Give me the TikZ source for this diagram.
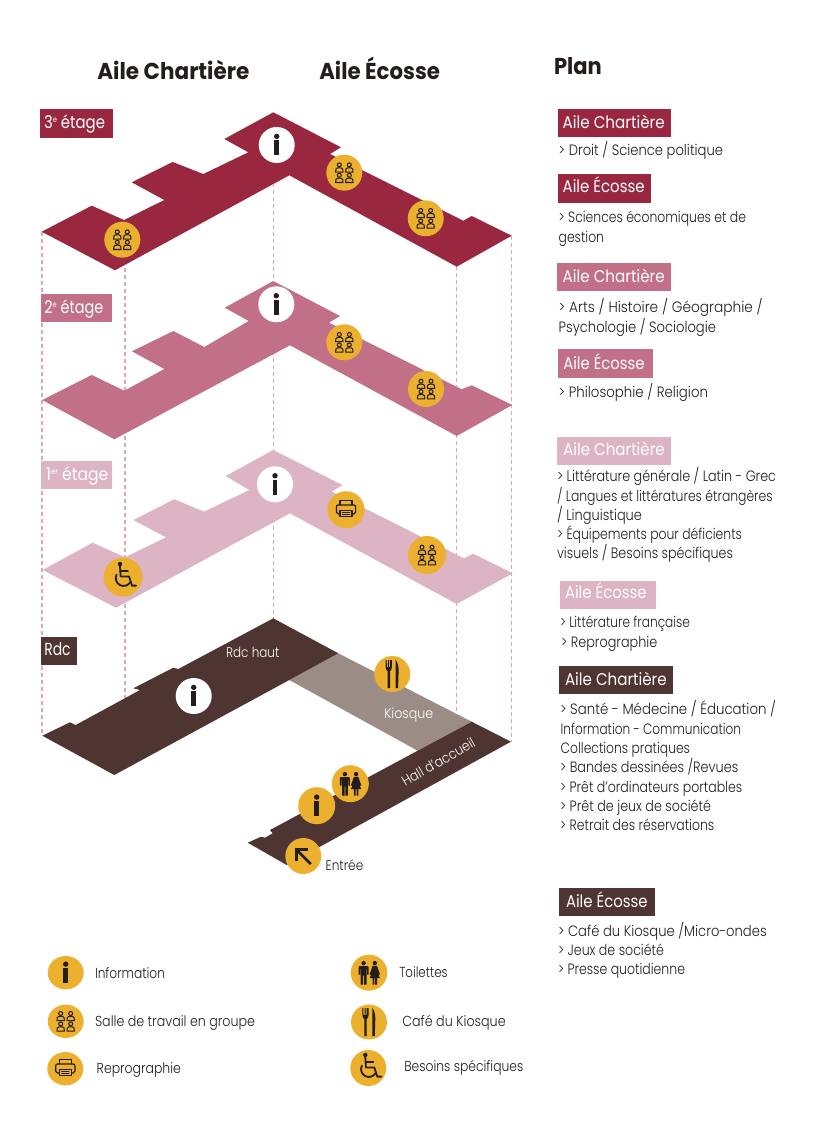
\documentclass[tikz,border=0pt]{standalone}
\usepackage{fontspec}
\usepackage{graphicx}
\setmainfont{Poppins Light}[BoldFont=Poppins Bold]
\newfontfamily\medfont{Poppins}
\definecolor{fl3}{HTML}{98273F}
\definecolor{fl2}{HTML}{C27087}
\definecolor{fl1}{HTML}{DCB4C3}
\definecolor{fl0}{HTML}{4F3531}
\definecolor{kio}{HTML}{9B8C85}
\definecolor{yel}{HTML}{ECB02F}
\definecolor{dsh}{HTML}{DBA8BA}
\definecolor{ink}{HTML}{241D1B}
\newcounter{tc}
\tikzset{
  txt/.style={anchor=base west,inner sep=0pt,outer sep=0pt,text=#1},
  tag/.style={fill=#1,draw=none,inner sep=0pt,outer sep=0pt,anchor=north west},
  guide/.style={draw=dsh,line width=1.3pt,dash pattern=on 4pt off 3pt},
  disc/.style={circle,inner sep=0pt,outer sep=0pt,draw=none,fill=#1},
  iconline/.style={draw=ink,line width=#1,line cap=round,line join=round,fill=none},
}
\newcommand\tl[6]{\stepcounter{tc}\pgfmathsetlengthmacro\txtw{#3-#1}%
  \node[txt=#4,font=\fontsize{#5}{#5}\selectfont] (t\thetc) at (#1,#2) {\resizebox{\txtw}{\height}{#6}};}
\newcommand\tagbox[6]{%
  \pgfmathsetlengthmacro\tagw{#4-#2}\pgfmathsetlengthmacro\tagh{#5-#3}%
  \node[tag=#6,minimum width=\tagw,minimum height=\tagh] (#1) at (#2,#3) {};}
\newcommand\sups[1]{\raisebox{6pt}{\fontsize{8}{8}\selectfont #1}}
\newcommand\icinfo{\fill[ink] (0,-8.6) circle (2.7);\fill[ink] (-2.3,-4.6) rectangle (2.3,10.4);}
\newcommand\person[2]{\begin{scope}[shift={(#1,#2)}]
  \draw[iconline=1.05pt] (0,-2.8) circle (2);
  \draw[iconline=1.05pt] (-3.7,4.4) -- (-3.4,1.3) .. controls (-2.8,-0.4) and (2.8,-0.4) .. (3.4,1.3) -- (3.7,4.4) -- cycle;
  \end{scope}}
\newcommand\icgroup{\person{-5}{-5}\person{5}{-5}\person{-5}{5.4}\person{5}{5.4}}
\newcommand\icprinter{%
  \draw[iconline=1.2pt] (-6,-4.8) -- (-6,-9) -- (6,-9) -- (6,-4.8);
  \draw[iconline=1.2pt] (-6,4.2) -- (-8,4.2) .. controls (-9.2,4.2) and (-9.6,3.4) .. (-9.6,2.4) -- (-9.6,-2.6) .. controls (-9.6,-4) and (-9,-4.8) .. (-7.6,-4.8) -- (7.6,-4.8) .. controls (9,-4.8) and (9.6,-4) .. (9.6,-2.6) -- (9.6,2.4) .. controls (9.6,3.4) and (9.2,4.2) .. (8,4.2) -- (6,4.2);
  \draw[iconline=1.2pt] (-6,1) rectangle (6,7);
  \draw[iconline=0.9pt] (-3.6,3.2) -- (3.6,3.2);\draw[iconline=0.9pt] (-3.6,5) -- (3.6,5);}
\newcommand\icwheel{%
  \fill[ink] (-3,-13) circle (2.2);
  \draw[iconline=1.8pt] (-3,-11) -- (-2.4,-0.6) -- (6,-0.6) -- (9,8.6) -- (13,8.6);
  \draw[iconline=1.8pt] (-2.8,-6) -- (5,-6);
  \draw[iconline=1.8pt] (-6.4,-2.4) arc[start angle=-153,end angle=-325,radius=7.8];}
\newcommand\icfork{%
  \fill[ink] (-6.6,-14) -- (-5.6,-14) -- (-5.5,-7) -- (-4.5,-7) -- (-4.4,-14) -- (-3.5,-14) -- (-3.4,-7) -- (-2.5,-7) -- (-2.4,-14) -- (-1.4,-14) -- (-1.2,-14) -- (-0.4,-14) -- (-0.4,-7) .. controls (-0.4,-4) and (-1.8,-3.6) .. (-2.3,-3) -- (-2.3,14) -- (-4.7,14) -- (-4.7,-3) .. controls (-5.4,-3.6) and (-6.6,-4) .. (-6.6,-7) -- cycle;
  \fill[ink] (3.4,-14.5) .. controls (6.6,-9) and (6.6,-4) .. (6.2,0) -- (5.8,14) -- (3.4,14) -- cycle;}
\newcommand\toiletman{%
  \fill[ink] (0,-9.6) circle (2.2);
  \fill[ink] (-4.2,-6.6) -- (4.2,-6.6) -- (5,-5.8) -- (5,2) -- (3.4,2) -- (3.4,-3.6) -- (2.9,-3.6) -- (2.9,12) -- (0.4,12) -- (0.4,3) -- (-0.4,3) -- (-0.4,12) -- (-2.9,12) -- (-2.9,-3.6) -- (-3.4,-3.6) -- (-3.4,2) -- (-5,2) -- (-5,-5.8) -- cycle;}
\newcommand\toiletwoman{%
  \fill[ink] (0,-9.6) circle (2.2);
  \fill[ink] (-2.2,-6.8) -- (2.2,-6.8) -- (5.2,1.6) -- (4,2) -- (2.6,-1.4) -- (5,5.4) -- (2.3,5.4) -- (2.3,12) -- (0.4,12) -- (0.4,5.4) -- (-0.4,5.4) -- (-0.4,12) -- (-2.3,12) -- (-2.3,5.4) -- (-5,5.4) -- (-2.6,-1.4) -- (-4,2) -- (-5.2,1.6) -- cycle;}
\newcommand\ictoilet{\begin{scope}[shift={(-5.4,0)}]\toiletman\end{scope}\begin{scope}[shift={(5.8,0)}]\toiletwoman\end{scope}}
\newcommand\icarrow{\draw[iconline=2.6pt,line cap=butt] (7.5,8) -- (-6.5,-6);\draw[iconline=2.6pt,line cap=butt,line join=miter] (-6.8,5) -- (-6.8,-6.5) -- (4.6,-6.5);}
\newcommand\badge[7]{\pgfmathsetlengthmacro\bd{2*#4}%
  \node[disc=#6,minimum size=\bd,yscale=#5/#4] (#1) at (#2,#3) {};
  \begin{scope}[shift={(#2,#3)}]#7\end{scope}}
\begin{document}
\begin{tikzpicture}[x=1pt,y=-1pt]
\useasboundingbox (0,0) rectangle (821,1126);
\fill[white] (0,0) rectangle (821,1126);
\coordinate (a0) at (42,232); \coordinate (a1) at (42,736);
\coordinate (b0) at (125,268); \coordinate (b1) at (125,698);
\coordinate (c0) at (273.5,176); \coordinate (c1) at (273.5,620);
\coordinate (d0) at (456.5,266); \coordinate (d1) at (456.5,712);
\coordinate (e0) at (511.5,236); \coordinate (e1) at (511.5,742);
\draw[guide] (a0) -- (a1);
\draw[guide] (b0) -- (b1);
\draw[guide] (c0) -- (c1);
\draw[guide] (d0) -- (d1);
\draw[guide] (e0) -- (e1);
\fill[fl3] (41.7,231.7) -- (91.7,205.7) -- (124,220) -- (164.3,200) -- (131.7,182.3) -- (172.7,162) -- (203.3,174) -- (248.3,152.3) -- (224.3,139) -- (273.3,112.3) -- (341,147.3) -- (330,154) -- (463.3,220.7) -- (471.7,216) -- (511.7,235.7) -- (456.7,266.7) -- (289.3,175.3) -- (115,270.3) -- cycle;
\fill[fl2] (42.3,400) -- (91.7,375) -- (124.3,390.7) -- (164.3,369) -- (132,351.3) -- (173.3,331) -- (204.3,347) -- (248.7,321) -- (224.7,307.7) -- (273.3,281) -- (340,316) -- (329,322.7) -- (461.7,389.3) -- (471.7,385.3) -- (512.3,405) -- (456.7,436) -- (290,345.3) -- (114.3,439.3) -- cycle;
\fill[fl1] (42.7,570) -- (92.7,542.7) -- (125,557.3) -- (166,537.3) -- (133.3,520) -- (174.3,499.3) -- (204,511.7) -- (249.3,490) -- (225.7,476) -- (273.3,450) -- (342.3,485) -- (331.7,491.7) -- (464,558.3) -- (473.3,553.7) -- (512.7,573.3) -- (456.7,604) -- (290,513.3) -- (116,607.7) -- cycle;
\fill[kio] (338.3,653.3) -- (471.7,721.7) -- (417.7,750.7) -- (289.3,680) -- cycle;
\fill[fl0] (42.3,735.7) -- (70,722.3) -- (75.7,725) -- (140,690) -- (133.3,688.3) -- (173.3,667.7) -- (178.3,669) -- (273.3,618.3) -- (338.3,653.3) -- (289.3,680) -- (114.3,775) -- cycle;
\fill[fl0] (471.7,721.7) -- (511,741.7) -- (286.7,865) -- (247.7,842.7) -- (261,836.7) -- (265,837.7) -- (272.7,833.3) -- (270,830) -- (417.7,750.7) -- cycle;
\tagbox{l3}{40}{108.7}{112.7}{138.3}{fl3}
\tagbox{l2}{41}{294}{112.3}{322.3}{fl2}
\tagbox{l1}{41}{461}{112.3}{489}{fl1}
\tagbox{l0}{41}{636.7}{76.7}{664.7}{fl0}
\tl{44}{128.3}{105}{white}{17.5}{\medfont 3\sups{e} étage}
\tl{44.3}{313.3}{103.3}{white}{17.5}{\medfont 2\sups{e} étage}
\tl{46}{480}{108.3}{white}{17.5}{\medfont 1\sups{er} étage}
\tl{44.3}{655.7}{70.7}{white}{17.5}{\medfont Rdc}
\tl{97.3}{79.3}{249.3}{ink}{23}{\bfseries Aile Chartière}
\tl{319.3}{79.3}{440}{ink}{23}{\bfseries Aile Écosse}
\tl{554}{75}{601.7}{ink}{23}{\bfseries Plan}
\tagbox{p1}{557.7}{109.3}{671.3}{137.3}{fl3}
\tagbox{p2}{557.7}{174.3}{650.7}{202.7}{fl3}
\tagbox{p3}{557.3}{263}{670.7}{290.7}{fl2}
\tagbox{p4}{558.3}{349.3}{652.7}{377.7}{fl2}
\tagbox{p5}{557.3}{437}{670.7}{464.7}{fl1}
\tagbox{p6}{560}{580.7}{656}{609}{fl1}
\tagbox{p7}{559.3}{665.7}{673.3}{693.7}{fl0}
\tagbox{p8}{559}{887.7}{655}{916}{fl0}
\tl{562.7}{128.3}{664.7}{white}{17}{\medfont Aile Chartière}
\tl{562.7}{192.7}{644.7}{white}{17}{\medfont Aile Écosse}
\tl{562.7}{282}{664.7}{white}{17}{\medfont Aile Chartière}
\tl{563.3}{369.3}{644.7}{white}{17}{\medfont Aile Écosse}
\tl{563.3}{455.7}{664.7}{white}{17}{\medfont Aile Chartière}
\tl{565}{598.3}{646.7}{white}{17}{\medfont Aile Écosse}
\tl{565}{685}{666.7}{white}{17}{\medfont Aile Chartière}
\tl{566}{907.3}{647.7}{white}{17}{\medfont Aile Écosse}
\tl{558.7}{155.7}{723}{ink}{15}{> Droit / Science politique}
\tl{558.7}{222.7}{746}{ink}{15}{> Sciences économiques et de}
\tl{558.7}{242}{604}{ink}{15}{gestion}
\tl{558.7}{312.3}{762.7}{ink}{15}{> Arts / Histoire / Géographie /}
\tl{558.7}{332.3}{716}{ink}{15}{Psychologie / Sociologie}
\tl{558.7}{397.7}{708}{ink}{15}{> Philosophie / Religion}
\tl{557}{481.7}{776}{ink}{15}{> Littérature générale / Latin - Grec}
\tl{557}{501}{772.7}{ink}{15}{/ Langues et littératures étrangères}
\tl{557}{520}{642}{ink}{15}{/ Linguistique}
\tl{557}{539.3}{742}{ink}{15}{> Équipements pour déficients}
\tl{557}{558.3}{733}{ink}{15}{visuels / Besoins spécifiques}
\tl{560}{627.7}{690}{ink}{15}{> Littérature française}
\tl{561}{647.3}{657.3}{ink}{15}{> Reprographie}
\tl{560}{714.7}{776}{ink}{15}{> Santé - Médecine / Éducation /}
\tl{560.7}{734}{741}{ink}{15}{Information - Communication}
\tl{560.7}{753.3}{690}{ink}{15}{Collections pratiques}
\tl{560}{772.7}{738.3}{ink}{15}{> Bandes dessinées /Revues}
\tl{560}{792}{742.3}{ink}{15}{> Prêt d’ordinateurs portables}
\tl{560}{811}{711}{ink}{15}{> Prêt de jeux de société}
\tl{560}{830.3}{714.3}{ink}{15}{> Retrait des réservations}
\tl{558}{936}{766.7}{ink}{15}{> Café du Kiosque /Micro-ondes}
\tl{558}{955.3}{664}{ink}{15}{> Jeux de société}
\tl{558}{974.3}{685}{ink}{15}{> Presse quotidienne}
\tl{226}{657.3}{279.3}{white}{14}{Rdc haut}
\tl{384.3}{718.3}{433.3}{white}{14}{Kiosque}
\node[inner sep=0pt,text=white,rotate=30,font=\fontsize{14}{14}\selectfont] (hall) at (438.3,761.7) {\resizebox{82pt}{\height}{Hall d’accueil}};
\tl{325.7}{870}{363.3}{ink}{14}{Entrée}
\badge{i3}{276.7}{145}{18}{18}{white}{\icinfo}
\badge{g3a}{344.3}{172.7}{18}{18}{yel}{\icgroup}
\badge{g3b}{425.7}{218.3}{18}{18}{yel}{\icgroup}
\badge{g3c}{122.3}{239.7}{18}{18}{yel}{\icgroup}
\badge{i2}{276.3}{304.3}{18}{18}{white}{\icinfo}
\badge{g2a}{344.3}{342.3}{18}{18}{yel}{\icgroup}
\badge{g2b}{426}{389}{18}{18}{yel}{\icgroup}
\badge{i1}{275}{484.3}{18}{18}{white}{\icinfo}
\badge{pr1}{346}{509.7}{18.5}{18.5}{yel}{\icprinter}
\badge{g1}{427}{555}{19}{19}{yel}{\icgroup}
\badge{w1}{123}{577}{19.5}{19.5}{yel}{\icwheel}
\badge{i0}{193.7}{696}{18}{18}{white}{\icinfo}
\badge{f0}{392.3}{674}{18}{18}{yel}{\icfork}
\badge{t0}{350.3}{783.7}{18.5}{18.5}{yel}{\ictoilet}
\badge{iy0}{316.7}{805.7}{18.5}{18.5}{yel}{\icinfo}
\badge{ar0}{303.3}{856}{18}{18}{yel}{\icarrow}
\badge{Li}{65.7}{972.7}{18}{16.7}{yel}{\icinfo}
\badge{Lg}{65.7}{1021.3}{18}{16.7}{yel}{\icgroup}
\badge{Lp}{65.3}{1068.7}{18}{16.7}{yel}{\icprinter}
\badge{Lt}{369}{972.7}{18.3}{18}{yel}{\ictoilet}
\badge{Lf}{369}{1022}{18}{17.5}{yel}{\icfork}
\badge{Lw}{368.3}{1068}{18}{18}{yel}{\icwheel}
\tl{95}{978.3}{165}{ink}{14.5}{Information}
\tl{95}{1026}{255}{ink}{14.5}{Salle de travail en groupe}
\tl{96.7}{1073.3}{181}{ink}{14.5}{Reprographie}
\tl{399.3}{977.3}{447.7}{ink}{14.5}{Toilettes}
\tl{402.3}{1026.7}{505.7}{ink}{14.5}{Café du Kiosque}
\tl{404.3}{1071}{523.3}{ink}{14.5}{Besoins spécifiques}
\end{tikzpicture}
\end{document}
